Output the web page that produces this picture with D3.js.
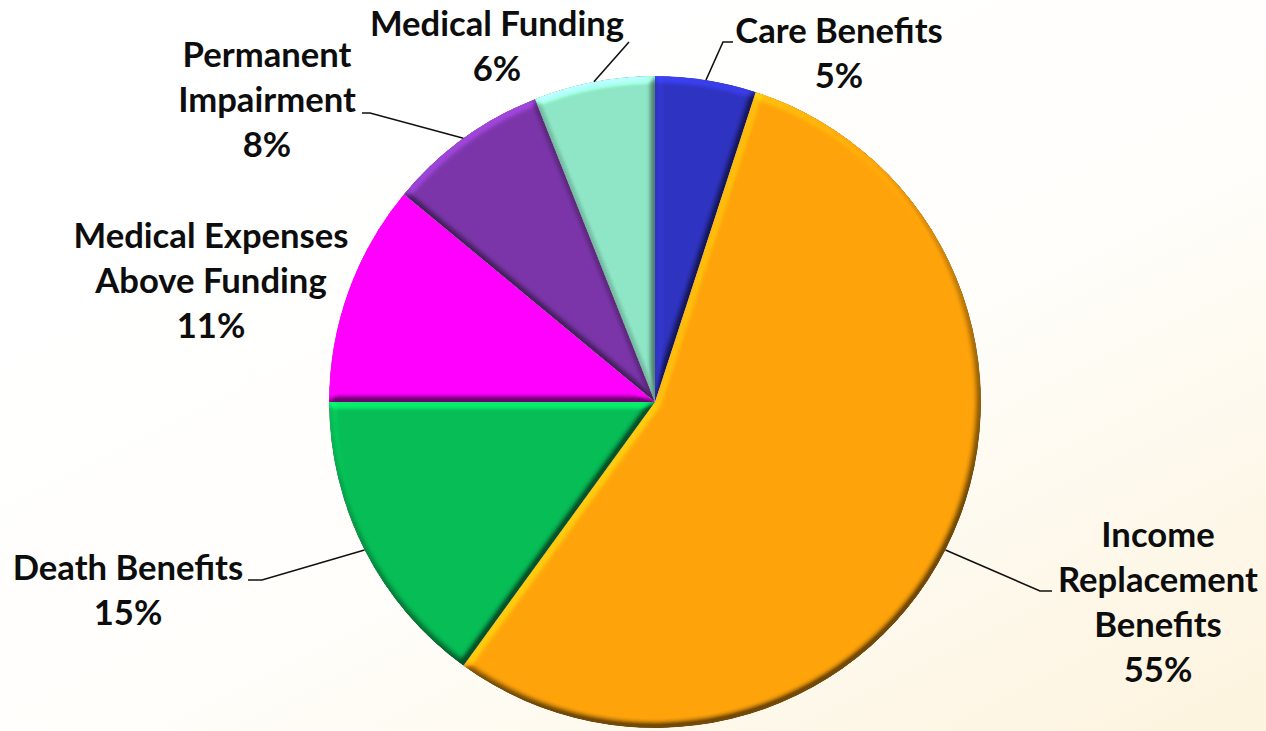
<!DOCTYPE html>
<html>
<head>
<meta charset="utf-8">
<script src="https://cdn.jsdelivr.net/npm/d3@7"></script>
<style>
  html, body { margin: 0; padding: 0; background: #fff; }
  svg { display: block; }
  text { font-family: Lato, "Open Sans", sans-serif; font-weight: 700; fill: #0d0d0d; }
</style>
</head>
<body>
<svg id="chart" width="1266" height="731"></svg>
<script>
// Benefit categories, clockwise from 12 o'clock
const categories = [
  "Care Benefits",
  "Income Replacement Benefits",
  "Death Benefits",
  "Medical Expenses Above Funding",
  "Permanent Impairment",
  "Medical Funding"
];
// Share of total payments, in percent
const shares = [5, 55, 15, 11, 8, 6];
// Label text, broken into lines
const labelLines = [
  ["Care Benefits"],
  ["Income", "Replacement", "Benefits"],
  ["Death Benefits"],
  ["Medical Expenses", "Above Funding"],
  ["Permanent", "Impairment"],
  ["Medical Funding"]
];
const sliceColors = ["#2F33C1", "#FFA30A", "#06BD56", "#FF00FF", "#7B35A9", "#8EE6C6"];

// Label placement: text centre x, first baseline y, leader elbow and end
const labelLayout = [
  { x: 839, y: 43,  elbow: [723, 42],  end: [733, 42] },
  { x: 1158, y: 547, elbow: [1040, 591], end: [1052, 591] },
  { x: 128, y: 580, elbow: [262, 580], end: [248, 580] },
  { x: 211, y: 248, elbow: null, end: null },
  { x: 267, y: 67,  elbow: [370, 113], end: [362, 113] },
  { x: 497, y: 36,  elbow: [629, 42],  end: [629, 42] }
];

const W = 1266, H = 731;
const cx = 655, cy = 402, R = 326;
const lineGap = 45;

const svg = d3.select("#chart");
const defs = svg.append("defs");

// soft white-to-cream backdrop
const bg = defs.append("linearGradient").attr("id", "bg")
  .attr("x1", 0.25).attr("y1", 0.2).attr("x2", 0.95).attr("y2", 1);
bg.append("stop").attr("offset", "0%").attr("stop-color", "#ffffff");
bg.append("stop").attr("offset", "45%").attr("stop-color", "#fffefb");
bg.append("stop").attr("offset", "100%").attr("stop-color", "#fdf4df");
svg.append("rect").attr("width", W).attr("height", H).attr("fill", "url(#bg)");

// bevelled edge on every slice: lit from the upper left, shaded to the lower right
const f = defs.append("filter").attr("id", "bevel")
  .attr("x", "-5%").attr("y", "-5%").attr("width", "110%").attr("height", "110%")
  .attr("color-interpolation-filters", "sRGB");
f.append("feGaussianBlur").attr("in", "SourceAlpha").attr("stdDeviation", 3.6).attr("result", "blur");
const lit = f.append("feDiffuseLighting").attr("in", "blur")
  .attr("surfaceScale", 6).attr("diffuseConstant", 0.78)
  .attr("lighting-color", "#ffffff").attr("result", "light");
lit.append("feDistantLight").attr("azimuth", 245).attr("elevation", 40);
f.append("feComposite").attr("in", "SourceGraphic").attr("in2", "light")
  .attr("operator", "arithmetic").attr("k1", 1.1).attr("k2", 0.45).attr("k3", 0).attr("k4", 0)
  .attr("result", "shaded");
f.append("feComposite").attr("in", "shaded").attr("in2", "SourceAlpha").attr("operator", "in");

const pie = d3.pie().sort(null).value(d => d)
  .startAngle(0).endAngle(2 * Math.PI);
const arcs = pie(shares);
const arc = d3.arc().innerRadius(0).outerRadius(R);

const g = svg.append("g").attr("transform", `translate(${cx},${cy})`);
g.selectAll("path.slice")
  .data(arcs)
  .join("path")
  .attr("class", "slice")
  .attr("d", arc)
  .attr("fill", (d, i) => sliceColors[i])
  .attr("filter", "url(#bevel)");

// pick a font size that gives the label font its intended width
const probe = svg.append("text").attr("font-size", 100).text("Replacement");
const probeW = probe.node().getComputedTextLength();
probe.remove();
const fontSize = Math.min(40, 100 * 200 / probeW);

// leader lines
const edgePoint = d => {
  const a = (d.startAngle + d.endAngle) / 2;
  return [cx + R * Math.sin(a), cy - R * Math.cos(a)];
};
arcs.forEach((d, i) => {
  const L = labelLayout[i];
  if (!L.elbow) return;
  const pts = [edgePoint(d), L.elbow, L.end];
  svg.append("path")
    .attr("d", d3.line()(pts))
    .attr("fill", "none")
    .attr("stroke", "#111")
    .attr("stroke-width", 1.6);
});

// labels: name lines followed by the percentage
arcs.forEach((d, i) => {
  const L = labelLayout[i];
  const lines = labelLines[i].concat([shares[i] + "%"]);
  const t = svg.append("text")
    .attr("text-anchor", "middle")
    .attr("font-size", fontSize)
    .attr("data-category", categories[i]);
  lines.forEach((s, k) => {
    t.append("tspan").attr("x", L.x).attr("y", L.y + k * lineGap).text(s);
  });
});
</script>
</body>
</html>
